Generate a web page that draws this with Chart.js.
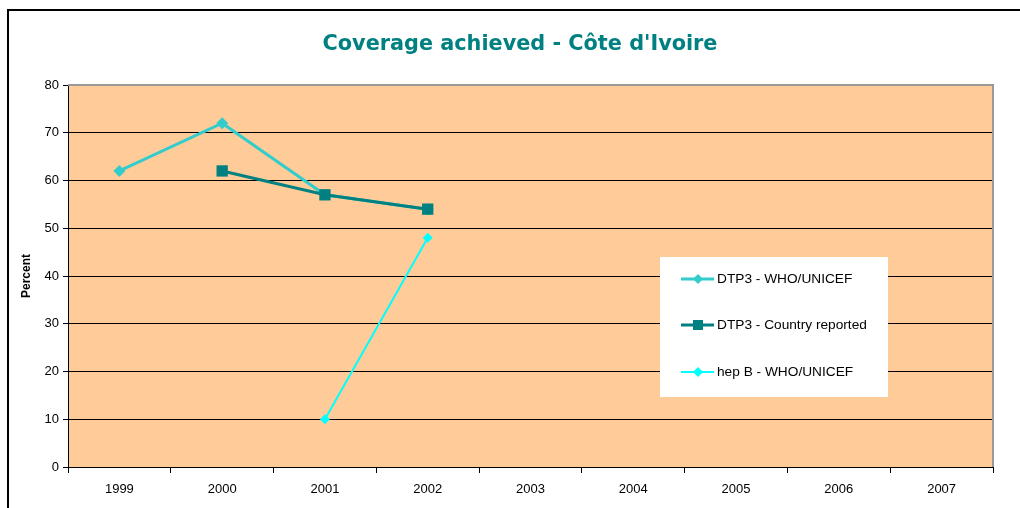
<!DOCTYPE html>
<html>
<head>
<meta charset="utf-8">
<script src="https://cdn.jsdelivr.net/npm/chart.js@4"></script>
<style>
  html, body { margin: 0; padding: 0; background: #fff; }
  canvas { display: block; }
</style>
</head>
<body>
<canvas id="coverage" width="1020" height="508"></canvas>
<script>
// values
const years = ['1999', '2000', '2001', '2002', '2003', '2004', '2005', '2006', '2007'];
const dtp3Who = [62, 72, 57, 54, null, null, null, null, null];
const dtp3Country = [null, 62, 57, 54, null, null, null, null, null];
const hepBWho = [null, null, 10, 48, null, null, null, null, null];
const yTicks = [0, 10, 20, 30, 40, 50, 60, 70, 80];
const chartTitle = "Coverage achieved - Côte d'Ivoire";

// plot background, frame, title (centred on the outer frame) and the boxed legend
const frame = {
    id: 'frame',
    beforeDraw(chart) {
        const ctx = chart.ctx;
        const a = chart.chartArea;
        ctx.save();
        ctx.fillStyle = '#fff';
        ctx.fillRect(0, 0, chart.width, chart.height);
        ctx.strokeStyle = '#000';
        ctx.lineWidth = 2;
        ctx.strokeRect(8, 10, chart.width + 20, chart.height + 20);
        ctx.fillStyle = '#FFCC99';
        ctx.fillRect(a.left, a.top, a.right - a.left, a.bottom - a.top);
        ctx.fillStyle = '#008080';
        ctx.font = 'bold 20.8px "DejaVu Sans", Verdana, sans-serif';
        ctx.textAlign = 'center';
        ctx.textBaseline = 'middle';
        ctx.fillText(chartTitle, 520, 45);
        ctx.restore();
    },
    beforeDatasetsDraw(chart) {
        const ctx = chart.ctx;
        const a = chart.chartArea;
        ctx.save();
        ctx.strokeStyle = '#9a9a9a';
        ctx.lineWidth = 2;
        ctx.beginPath();
        ctx.moveTo(a.left, a.top);
        ctx.lineTo(a.right, a.top);
        ctx.lineTo(a.right, a.bottom);
        ctx.stroke();
        ctx.restore();
    },
    afterDraw(chart) {
        const ctx = chart.ctx;
        ctx.save();
        ctx.fillStyle = '#fff';
        ctx.fillRect(660, 257, 228, 140);
        const rows = [279, 325, 372];
        chart.data.datasets.forEach(function(ds, i) {
            const y = rows[i];
            ctx.strokeStyle = ds.borderColor;
            ctx.lineWidth = ds.borderWidth;
            ctx.beginPath();
            ctx.moveTo(681, y);
            ctx.lineTo(714, y);
            ctx.stroke();
            ctx.fillStyle = ds.pointBackgroundColor;
            if (ds.pointStyle === 'rect') {
                ctx.fillRect(693, y - 5, 10, 10);
            } else {
                ctx.beginPath();
                ctx.moveTo(698, y - 5);
                ctx.lineTo(703, y);
                ctx.lineTo(698, y + 5);
                ctx.lineTo(693, y);
                ctx.closePath();
                ctx.fill();
            }
            ctx.fillStyle = '#000';
            ctx.font = '13.7px Arial, "Liberation Sans", sans-serif';
            ctx.textBaseline = 'middle';
            ctx.textAlign = 'left';
            ctx.fillText(ds.label, 717, y);
        });
        ctx.restore();
    }
};

let ctx = document.getElementById('coverage').getContext('2d');
let lineChart = new Chart(ctx, {
    type: 'line',
    data: {
        labels: years,
        datasets: [
            {
                label: 'DTP3 - WHO/UNICEF',
                data: dtp3Who,
                borderColor: '#33CCCC',
                backgroundColor: '#33CCCC',
                pointBackgroundColor: '#33CCCC',
                pointBorderWidth: 0,
                borderWidth: 3,
                pointStyle: 'rectRot',
                pointRadius: 6,
                order: 3
            },
            {
                label: 'DTP3 - Country reported',
                data: dtp3Country,
                borderColor: '#008080',
                backgroundColor: '#008080',
                pointBackgroundColor: '#008080',
                pointBorderWidth: 0,
                borderWidth: 3,
                pointStyle: 'rect',
                pointRadius: 8,
                order: 2
            },
            {
                label: 'hep B - WHO/UNICEF',
                data: hepBWho,
                borderColor: '#00FFFF',
                backgroundColor: '#00FFFF',
                pointBackgroundColor: '#00FFFF',
                pointBorderWidth: 0,
                borderWidth: 2,
                pointStyle: 'rectRot',
                pointRadius: 5,
                order: 1
            }
        ]
    },
    options: {
        responsive: false,
        animation: false,
        layout: {
            padding: { top: 85, left: 19, right: 27, bottom: 0 }
        },
        plugins: {
            legend: { display: false },
            tooltip: { enabled: false },
            title: { display: false }
        },
        scales: {
            x: {
                offset: true,
                afterFit: function(scale) { scale.height = 41; },
                grid: {
                    offset: true,
                    drawOnChartArea: false,
                    drawTicks: true,
                    tickLength: 6,
                    color: '#000'
                },
                border: { color: '#000', width: 1 },
                ticks: {
                    color: '#000',
                    padding: 9,
                    font: { family: 'Arial, "Liberation Sans", sans-serif', size: 13 }
                }
            },
            y: {
                min: 0,
                max: 80,
                afterFit: function(scale) { scale.width = 49; },
                afterBuildTicks: function(scale) {
                    scale.ticks = yTicks.map(function(v) { return { value: v }; });
                },
                grid: {
                    color: '#000',
                    tickLength: 5,
                    drawTicks: true
                },
                border: { color: '#000', width: 1 },
                ticks: {
                    color: '#000',
                    padding: 4,
                    font: { family: 'Arial, "Liberation Sans", sans-serif', size: 13 }
                },
                title: {
                    display: true,
                    text: 'Percent',
                    color: '#000',
                    padding: { top: 0, bottom: 4 },
                    font: { family: 'Arial, "Liberation Sans", sans-serif', size: 12, weight: 'bold' }
                }
            }
        }
    },
    plugins: [frame]
});
</script>
</body>
</html>
